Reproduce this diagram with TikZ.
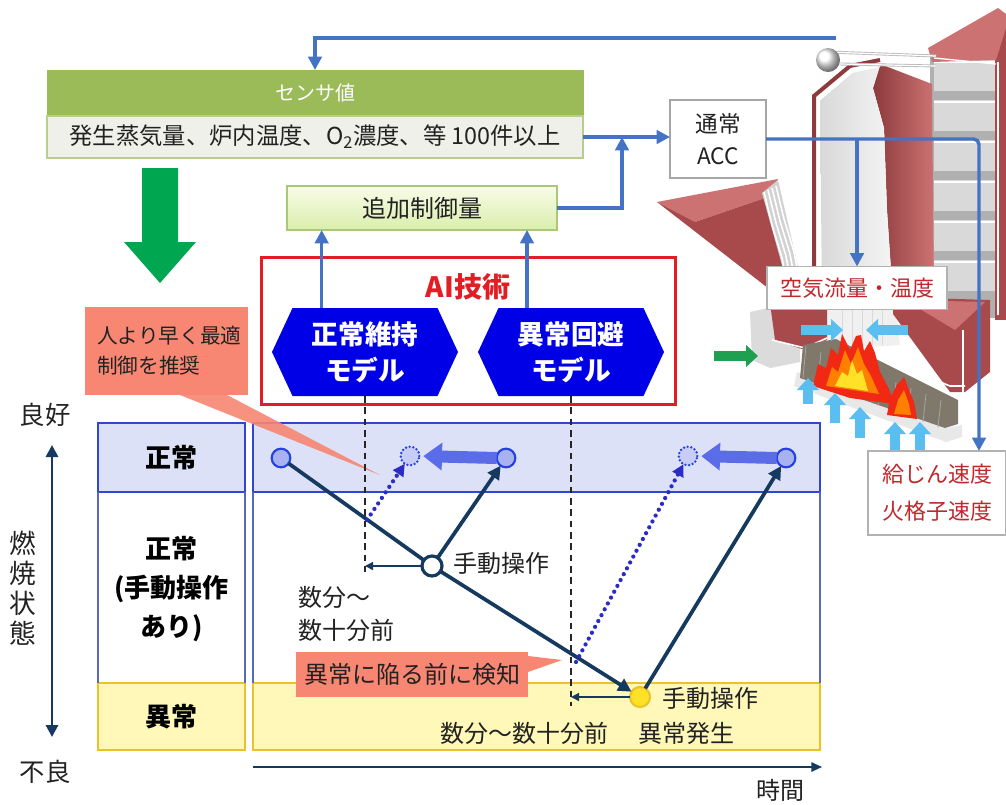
\documentclass[tikz,border=0pt]{standalone}
\usepackage{fontspec}
\setmainfont{Noto Sans CJK JP}
\usetikzlibrary{arrows.meta,shapes.symbols,calc}

\definecolor{linkblue}{RGB}{68,114,196}
\definecolor{sensgreen}{RGB}{155,187,89}
\definecolor{sensbody}{RGB}{239,240,233}
\definecolor{sensedge}{RGB}{185,205,145}
\definecolor{addtop}{RGB}{248,252,232}
\definecolor{addbot}{RGB}{218,238,172}
\definecolor{addedge}{RGB}{170,200,120}
\definecolor{biggreen}{RGB}{0,166,80}
\definecolor{aired}{RGB}{226,30,36}
\definecolor{hexblue}{RGB}{0,0,230}
\definecolor{salmon}{RGB}{247,135,115}
\definecolor{normfill}{RGB}{221,225,248}
\definecolor{normedge}{RGB}{46,69,214}
\definecolor{midedge}{RGB}{90,104,184}
\definecolor{abnfill}{RGB}{255,248,184}
\definecolor{abnedge}{RGB}{236,193,42}
\definecolor{navy}{RGB}{22,58,95}
\definecolor{dotblue}{RGB}{43,43,197}
\definecolor{ptfill}{RGB}{168,178,240}
\definecolor{ptedge}{RGB}{37,65,224}
\definecolor{fatblue}{RGB}{90,108,232}
\definecolor{ghostfill}{RGB}{199,205,246}
\definecolor{redtext}{RGB}{192,40,45}
\definecolor{maroon}{RGB}{168,74,76}
\definecolor{maroondk}{RGB}{140,58,60}
\definecolor{maroonlt}{RGB}{205,114,114}
\definecolor{skyarrow}{RGB}{90,190,240}
\definecolor{feedgreen}{RGB}{30,160,80}
\definecolor{grate}{RGB}{128,120,106}
\definecolor{flamered}{RGB}{240,40,20}
\definecolor{flameorange}{RGB}{255,128,0}
\definecolor{flameyellow}{RGB}{255,225,40}
\definecolor{txt}{RGB}{34,34,34}

\begin{document}
\begin{tikzpicture}[x=0.75pt,y=-0.75pt,
  every node/.style={inner sep=0pt, outer sep=0pt, text=txt},
  rbox/.style={rectangle, inner sep=0pt},
  link/.style={draw=linkblue, line width=2.6pt},
  linkarrow/.style={link, -{Triangle[length=10pt,width=10pt]}},
  navyline/.style={draw=navy, line width=2.8pt},
  navyarrow/.style={navyline, -{Triangle[length=10pt,width=10pt]}},
  thinarrow/.style={draw=navy, line width=1.1pt, -{Triangle[length=6pt,width=6pt]}},
  dotarrow/.style={draw=dotblue, line width=3.2pt, dash pattern=on 0pt off 5pt, line cap=round, -{Triangle[length=9pt,width=9pt]}},
  dashv/.style={draw=black!85, line width=1.1pt, dash pattern=on 5pt off 3.5pt},
  ptc/.style={circle, minimum size=14pt, fill=ptfill, draw=ptedge, line width=1.6pt},
  ghost/.style={circle, minimum size=14pt, fill=ghostfill, draw=ptedge, line width=2pt, dash pattern=on 0pt off 2.8pt, line cap=round},
  mancirc/.style={circle, minimum size=15pt, fill=white, draw=navy, line width=2.4pt},
  abncirc/.style={circle, minimum size=15pt, fill=flameyellow, draw=abnedge, line width=1.6pt},
  fat/.style={draw=fatblue, line width=9pt, -{Triangle[length=14pt,width=20pt]}, shorten >=3pt},
  skyarr/.style={draw=skyarrow, line width=8pt, -{Triangle[length=9pt,width=16pt]}},
  hexmodel/.style={signal, signal to=west and east, signal pointer angle=130,
    minimum width=139.5pt, minimum height=66pt, fill=hexblue, text=white,
    align=center, font=\bfseries\fontsize{20}{27}\selectfont},
  lab/.style={font=\fontsize{18}{22}\selectfont, text=txt},
  rowlab/.style={font=\bfseries\fontsize{19.5}{29}\selectfont, text=black, align=center},
  redlab/.style={rbox, fill=white, draw=gray!60, line width=0.8pt, text=redtext,
    align=center, font=\fontsize{16.5}{27.75}\selectfont}
]
\fill[white] (0,0) rectangle (1006,804);
\useasboundingbox (0,0) rectangle (1006,804);

% ---------- boiler cut-away ----------
% convective pass with tube banks
\fill[gray!62] (930,55) rectangle (1006,318);
\foreach \yy in {60,100,140,180,220,260}{
  \fill[gray!30] (934,\yy) rectangle (995,\yy+31);
  \draw[white, line width=0.8pt] (934,\yy+2) -- (995,\yy+2);
}
\fill[maroon] (995,18) rectangle (1006,320);
\draw[white, line width=1.2pt] (998,62) -- (998,315);
% roof of the convective pass
\fill[maroonlt] (928,48) -- (998,8) -- (1006,14) -- (1006,28) -- (996,60) -- (932,62) -- cycle;
\draw[white, line width=1pt] (934,58) -- (996,64);
% centre pillar
\shade[left color=maroondk, right color=maroonlt] (880,64) -- (932,84) -- (934,300) -- (893,300) -- (887,210) -- (884,128) -- (873,88) -- cycle;
% furnace interior
\shade[left color=gray!30, right color=gray!8] (820,100) -- (853,72) -- (880,66) -- (873,88) -- (884,128) -- (887,210) -- (893,300) -- (822,300) -- cycle;
% furnace outer wall
\draw[maroondk, line width=3pt] (814,305) -- (814,96) -- (850,66) -- (880,60);
\draw[white, line width=1.4pt] (819,300) -- (819,100) -- (852,72) -- (880,66);
% steam drum and header pipes
\draw[gray!55, line width=2.2pt] (828,52) -- (936,56);
\draw[gray!55, line width=2.2pt] (840,64) -- (936,66);
\draw[white, line width=0.9pt] (828,52) -- (936,56) (840,64) -- (936,66);
\shade[ball color=white] (828,60) circle[radius=9pt];
% fuel chute
\fill[maroonlt] (657,202) -- (778,179) -- (768,197) -- (695,222) -- cycle;
\fill[maroon] (657,202) -- (695,222) -- (768,197) -- (800,292) -- (786,302) -- cycle;
\fill[gray!35] (762,193) -- (778,180) -- (802,284) -- (790,294) -- cycle;
\foreach \k in {0,1,2,3}{
  \draw[white, line width=1.2pt] (764+4*\k,192-2*\k) -- (772+4*\k,225-2*\k) -- (782+4*\k,258-2*\k) -- (788+4*\k,290-2*\k);
}
% furnace throat and lower walls
\fill[gray!12] (822,298) -- (895,298) -- (900,345) -- (822,350) -- cycle;
\foreach \xx in {842,852,862,872,882}{\draw[gray!30, line width=0.5pt] (\xx,300) -- (\xx,345);}
\fill[gray!28] (750,312) -- (790,303) -- (800,305) -- (800,362) -- (770,368) -- (752,360) -- cycle;
\fill[maroon] (770,303) -- (827,300) -- (827,340) -- (805,350) -- (775,340) -- cycle;
\draw[white, line width=1.2pt] (772,340) -- (805,348) -- (827,338);
% ash hopper
\fill[maroon] (893,297) -- (990,300) -- (990,372) -- (965,392) -- (950,392) -- (893,314) -- cycle;
\fill[maroonlt] (905,300) -- (985,302) -- (955,330) -- cycle;
\draw[white, line width=1.2pt] (892,362) -- (950,386) -- (965,386);
\draw[white, line width=1pt] (963,330) -- (963,400);
% grate and its frame
\fill[gray!18] (797,372) -- (946,428) -- (962,425) -- (962,437) -- (946,442) -- (794,386) -- cycle;
\fill[grate] (803,345) -- (836,339) -- (958,400) -- (958,424) -- (945,428) -- (800,378) -- cycle;
\foreach \g in {0,...,9}{\draw[gray!70, line width=0.6pt] (806+15*\g,346+6*\g) -- (803+15*\g,378+5.5*\g);}
% flames
\fill[flamered] (813,386) -- (818,364) -- (826,368) -- (831,348) -- (838,355) -- (842,334) -- (850,350) -- (856,336) -- (861,335) -- (864,351) -- (870,341) -- (875,353) -- (880,372) -- (889,389) -- (894,404) -- (850,398) -- cycle;
\fill[flameorange] (826,386) -- (832,367) -- (838,372) -- (845,350) -- (851,364) -- (858,347) -- (864,364) -- (871,376) -- (879,394) -- cycle;
\fill[flameyellow] (835,386) -- (842,372) -- (848,376) -- (852,360) -- (857,374) -- (862,370) -- (868,391) -- cycle;
\fill[flamered] (887,415) -- (890,398) -- (897,385) -- (904,377) -- (909,390) -- (914,402) -- (917,419) -- cycle;
\fill[flameorange] (894,414) -- (898,400) -- (904,390) -- (909,404) -- (911,415) -- cycle;
% combustion air and fuel feed arrows
\draw[skyarr] (801,330) -- (843,330);
\draw[skyarr] (908,330) -- (866,330);
\draw[skyarr] (808,404) -- (808,378);
\draw[skyarr] (835,423) -- (835,393);
\draw[skyarr] (860,438) -- (860,407);
\draw[skyarr] (895,452) -- (895,422);
\draw[skyarr] (920,452) -- (920,422);
\draw[draw=feedgreen, line width=8pt, -{Triangle[length=9pt,width=16pt]}] (714,356) -- (758,356);

% ---------- control loop ----------
\node[rbox, minimum width=402pt, minimum height=34.5pt, fill=sensgreen, draw=sensgreen,
  text=white, font=\fontsize{15}{18}\selectfont] (sensh) at (315,93) {センサ値};
\node[rbox, minimum width=402pt, minimum height=31.5pt, fill=sensbody, draw=sensedge,
  line width=0.8pt, font=\fontsize{17.5}{20}\selectfont] (sensb) at (315,137)
  {発生蒸気量、炉内温度、O\textsubscript{2}濃度、等 100件以上};
\node[rbox, minimum width=202.5pt, minimum height=33pt, top color=addtop, bottom color=addbot,
  draw=addedge, line width=0.8pt, font=\fontsize{18}{20}\selectfont] (add) at (422,208) {追加制御量};
\node[rbox, minimum width=72pt, minimum height=58.5pt, fill=white, draw=gray!70,
  line width=0.8pt, align=center, font=\fontsize{17}{24}\selectfont] (acc) at (718,139) {通常\\ACC};
\node[redlab, minimum width=135pt, minimum height=32.25pt] (air) at (857,288) {空気流量・温度};
\node[redlab, minimum width=103.5pt, minimum height=63pt] (feed) at (937,493) {給じん速度\\火格子速度};

\coordinate (drumtap) at (836,38);
\coordinate (junc) at (622,137);
\draw[linkarrow] (drumtap) -| (sensh.north);
\draw[linkarrow] (sensb.east) -- (sensb.east -| acc.west);
\draw[linkarrow] (add.east) -| (junc);
\draw[linkarrow, rounded corners=4pt] (acc.east) -| ([xshift=31.5pt]feed.north);
\draw[linkarrow] (air.north |- acc.east) -- (air.north);

% sensor data flows down to the models
\fill[biggreen] (142,168) -- (178,168) -- (178,242) -- (196,242) -- (160,283) -- (124,242) -- (142,242) -- cycle;

% AI block
\node[rbox, draw=aired, line width=2pt, minimum width=310.5pt, minimum height=110.25pt] (ai) at (468.5,331) {};
\node[font=\bfseries\fontsize{21}{24}\selectfont, text=aired] (aititle) at (468,287) {AI技術};
\node[hexmodel] (m1) at (365,352) {正常維持\\モデル};
\node[hexmodel] (m2) at (571,352) {異常回避\\モデル};
\draw[linkarrow] ([xshift=-32.5pt]m1.north) -- ([xshift=-32.5pt]m1.north |- add.south);
\draw[linkarrow] ([xshift=-33pt]m2.north) -- ([xshift=-33pt]m2.north |- add.south);

% ---------- state chart ----------
\node[rbox, fill=normfill, draw=normedge, line width=2pt, minimum width=110.25pt,
  minimum height=51.75pt, rowlab] (lnorm) at (171.5,457.5) {正常};
\node[rbox, minimum width=110.25pt, minimum height=143.25pt, rowlab] (lmid) at (171.5,589) {正常\\(手動操作\\あり)};
\node[rbox, fill=abnfill, draw=abnedge, line width=2pt, minimum width=110.25pt,
  minimum height=50.25pt, rowlab] (labn) at (171.5,716.5) {異常};
\draw[midedge, line width=0.8pt] (lnorm.south west) -- (labn.north west) (lnorm.south east) -- (labn.north east);

\node[rbox, fill=normfill, draw=normedge, line width=2pt, minimum width=425.25pt, minimum height=51.75pt] (rnorm) at (536.5,457.5) {};
\node[rbox, fill=abnfill, draw=abnedge, line width=2pt, minimum width=425.25pt, minimum height=50.25pt] (rabn) at (536.5,716.5) {};
\draw[midedge, line width=0.8pt] (rnorm.south west) -- (rabn.north west) (rnorm.south east) -- (rabn.north east);

% vertical axis
\node[font=\fontsize{19}{22}\selectfont] (good) at (45,415) {良好};
\node[font=\fontsize{19}{22}\selectfont] (bad) at (45,772) {不良};
\coordinate (axtop) at (52,445);
\coordinate (axbot) at (52,737);
\draw[navy, line width=2.2pt, {Triangle[length=9pt,width=9pt]}-{Triangle[length=9pt,width=9pt]}] (axtop) -- (axbot);
\node[align=center, font=\fontsize{20}{22.5}\selectfont] (state) at (23,588) {燃\\焼\\状\\態};

% time axis
\coordinate (t0) at (253,767);
\coordinate (t1) at (822,767);
\draw[navy, line width=1.4pt, -{Triangle[length=8pt,width=7pt]}] (t0) -- (t1);
\node[lab] (ltime) at (780,790) {時間};

% callouts
\node[rbox, fill=salmon, minimum width=122.25pt, minimum height=66pt, text width=104pt,
  align=left, font=\fontsize{15.5}{22.5}\selectfont] (cal1) at (166.5,351) {人より早く最適\\制御を推奨};
\coordinate (tip1) at (380,475);
\fill[salmon, opacity=0.9] ([xshift=71.25pt]cal1.south west) -- ([xshift=106.5pt]cal1.south west) -- (tip1) -- cycle;

% model look-ahead markers
\path (m1.south) ++(0,176) coordinate (dash1);
\path (m2.south) ++(0,310) coordinate (dash2);
\draw[dashv] (m1.south) -- (dash1);
\draw[dashv] (m2.south) -- (dash2);

\node[rbox, fill=salmon, minimum width=174pt, minimum height=33.75pt,
  font=\fontsize{18}{22}\selectfont] (cal2) at (412,674.5) {異常に陥る前に検知};
\coordinate (tip2) at (562,660);
\fill[salmon] ([yshift=-3pt]cal2.north east) -- (tip2) -- ([yshift=-15pt]cal2.north east) -- cycle;

% trajectories
\node[ptc] (c1) at (281,458) {};
\node[ghost] (d1) at (410,456) {};
\node[ptc] (c2) at (506,458) {};
\node[ghost] (d2) at (688,456) {};
\node[ptc] (c3) at (786,458) {};
\node[mancirc] (man) at (432,566) {};
\node[abncirc] (abn) at (640,697) {};

\draw[fat] (c2.west) -- (d1.east);
\draw[fat] (c3.west) -- (d2.east);
\draw[navyline] (c1) -- (man);
\draw[navyarrow] (man) -- (abn);
\draw[navyarrow] (man) -- (c2);
\draw[navyarrow] (abn) -- (c3);
\coordinate (ds1) at (367,520);
\coordinate (ds2) at (576,662);
\draw[dotarrow] (ds1) -- (d1);
\draw[dotarrow] (ds2) -- (d2);
\draw[thinarrow] (man.west) -- (man.west -| dash1);
\draw[thinarrow] (abn.west) -- (abn.west -| dash2);

% labels
\node[lab, anchor=west] (lman1) at (453,563) {手動操作};
\node[lab, anchor=west] (lt1) at (298,597) {数分～};
\node[lab, anchor=west] (lt2) at (298,630) {数十分前};
\node[lab, anchor=west] (lman2) at (662,698) {手動操作};
\node[lab, anchor=west] (lnew) at (638,733) {異常発生};
\node[lab, anchor=west] (lt3) at (440,733) {数分～数十分前};
\end{tikzpicture}
\end{document}
